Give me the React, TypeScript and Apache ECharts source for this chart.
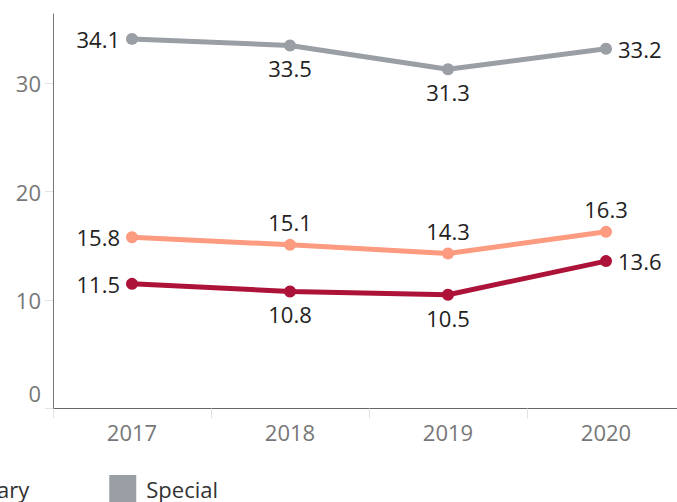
import React, { useEffect, useRef } from "react";
import * as echarts from "echarts";

const years = ["2017", "2018", "2019", "2020"];
const primary = [11.5, 10.8, 10.5, 13.6];
const secondary = [15.8, 15.1, 14.3, 16.3];
const special = [34.1, 33.5, 31.3, 33.2];

const primaryPos = ["left", "bottom", "bottom", "right"];
const secondaryPos = ["left", "top", "top", "top"];
const specialPos = ["left", "bottom", "bottom", "right"];

const FONT = "'Open Sans', 'Noto Sans', sans-serif";

function mk(name: string, values: number[], pos: string[], color: string) {
  return {
    name,
    type: "line",
    data: values.map((v, i) => ({
      value: v,
      label: { position: pos[i] },
    })),
    color,
    lineStyle: { width: 5, color },
    itemStyle: { color },
    symbol: "circle",
    symbolSize: 12,
    label: {
      show: true,
      fontSize: 22,
      color: "#222",
      fontFamily: FONT,
      distance: 6,
      formatter: (p: any) => p.value.toFixed(1),
    },
  };
}

export default function App() {
  const ref = useRef<HTMLDivElement>(null);
  useEffect(() => {
    if (!ref.current) return;
    const chart = echarts.init(ref.current, null, { renderer: "svg" });
    chart.setOption({
      animation: false,
      textStyle: { fontFamily: FONT },
      grid: { left: 53, right: -8, top: 14, bottom: 93.5, outerBoundsMode: "none", containLabel: false },
      legend: {
        right: 459,
        width: 700,
        top: 475,
        padding: 0,
        itemWidth: 27,
        itemHeight: 27,
        itemGap: 80,
        icon: "rect",
        data: ["Primary", "Secondary", "Special"],
        textStyle: { fontSize: 22, color: "#333", fontFamily: FONT, padding: [0, 0, 0, 5] },
      },
      xAxis: {
        type: "category",
        data: years,
        boundaryGap: true,
        axisLine: { lineStyle: { color: "#666", width: 1 } },
        axisTick: { show: true, length: 10, lineStyle: { color: "#e3e3e3" } },
        axisLabel: { fontSize: 22, color: "#777", margin: 12, fontFamily: FONT },
        splitLine: { show: false },
      },
      yAxis: {
        type: "value",
        min: 0,
        max: 36.4,
        interval: 10,
        axisLine: { show: true, lineStyle: { color: "#777", width: 1 } },
        axisTick: { show: true, length: 8, lineStyle: { color: "#e3e3e3" } },
        splitLine: { show: false },
        axisLabel: {
          fontSize: 22,
          color: "#777",
          margin: 12,
          fontFamily: FONT,
          showMaxLabel: false,
          formatter: (v: number) => (v === 0 ? "{z|0}" : String(v)),
          rich: { z: { fontSize: 22, color: "#777", fontFamily: FONT, padding: [0, 0, 31, 0] } },
        },
      },
      series: [
        mk("Primary", primary, primaryPos, "#ad1238"),
        mk("Secondary", secondary, secondaryPos, "#fc9b80"),
        mk("Special", special, specialPos, "#9a9ea5"),
      ],
    });
    return () => chart.dispose();
  }, []);
  return <div ref={ref} style={{ width: 677, height: 502, position: "absolute", left: 0, top: 0 }} />;
}
